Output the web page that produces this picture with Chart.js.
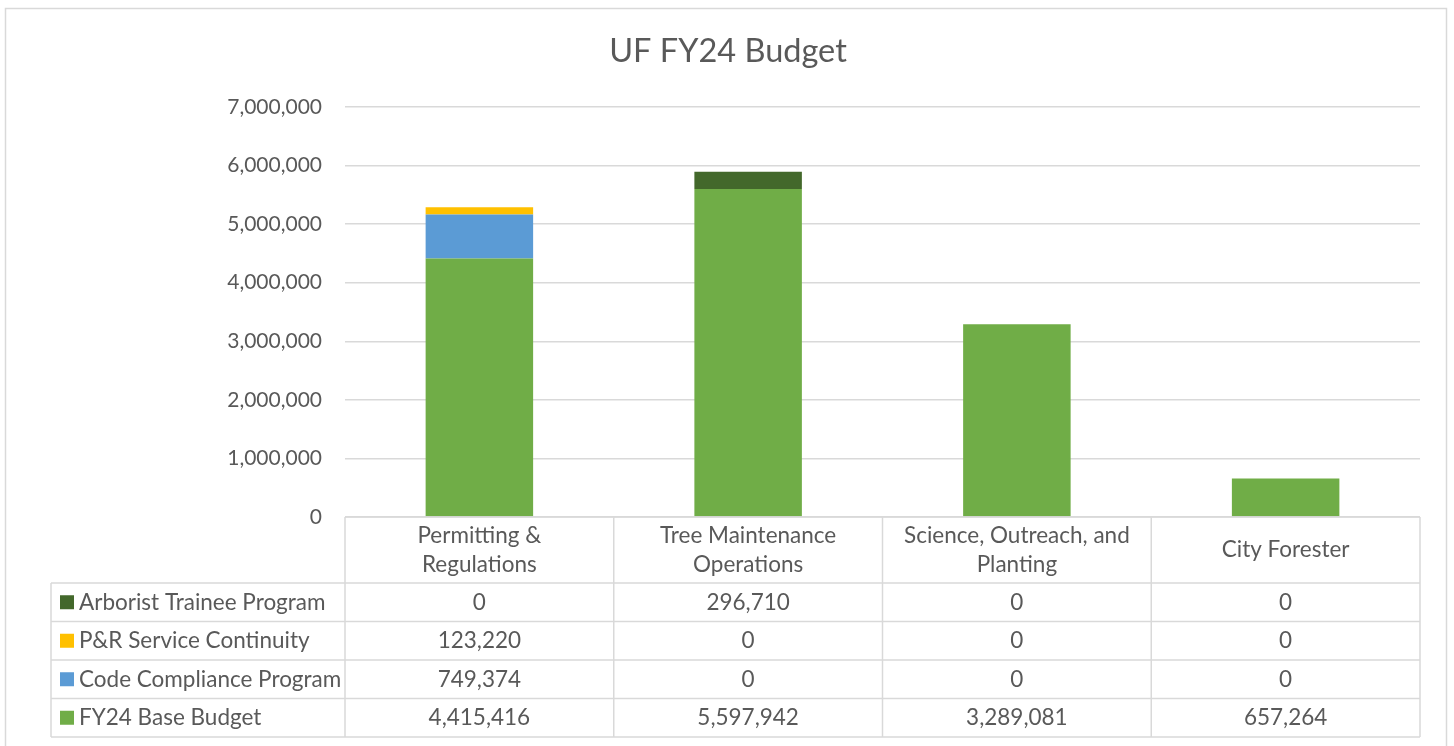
<!DOCTYPE html>
<html>
<head>
<meta charset="utf-8">
<script src="https://cdn.jsdelivr.net/npm/chart.js@4"></script>
<style>
    body { margin: 0; background: #fff; }
    #chart-root { width: 1454px; height: 746px; }
</style>
</head>
<body>
<div id="chart-root"><canvas id="budget-canvas"></canvas></div>
<script>
const categories = [
    ['Permitting &', 'Regulations'],
    ['Tree Maintenance', 'Operations'],
    ['Science, Outreach, and', 'Planting'],
    ['City Forester']
]
const seriesNames = ['FY24 Base Budget', 'Code Compliance Program', 'P&R Service Continuity', 'Arborist Trainee Program']
const baseBudget = [4415416, 5597942, 3289081, 657264]
const codeCompliance = [749374, 0, 0, 0]
const serviceContinuity = [123220, 0, 0, 0]
const arboristTrainee = [0, 296710, 0, 0]
const yTicks = [0, 1000000, 2000000, 3000000, 4000000, 5000000, 6000000, 7000000]

const textColor = '#595959'
const lineColor = '#d9d9d9'
const fontFamily = 'Lato, "Open Sans", sans-serif'
const seriesColors = ['#70AD47', '#5B9BD5', '#FFC000', '#43682B']
const seriesValues = [baseBudget, codeCompliance, serviceContinuity, arboristTrainee]

const fmt = v => v.toLocaleString('en-US')

// title, outer frame and the data table under the plot
const tablePlugin = {
    id: 'dataTable',
    afterDraw(chart) {
        const ctx = chart.ctx
        const area = chart.chartArea
        const xScale = chart.scales.x
        const n = categories.length
        const colW = (area.right - area.left) / n
        const tableLeft = 51
        const headerTop = area.bottom
        const headerBottom = 583
        const rowH = 38.5

        ctx.save()
        ctx.strokeStyle = lineColor
        ctx.lineWidth = 1.5

        // outer frame
        ctx.strokeRect(5.5, 8.5, 1441, 800)

        // title
        ctx.fillStyle = textColor
        ctx.font = `32.5px ${fontFamily}`
        ctx.textAlign = 'center'
        ctx.textBaseline = 'middle'
        ctx.fillText('UF FY24 Budget', 728, 52)

        // table grid
        ctx.beginPath()
        ctx.moveTo(area.left, headerTop)
        ctx.lineTo(area.right, headerTop)
        for (let i = 0; i <= n; i++) {
            const x = area.left + i * colW
            ctx.moveTo(x, headerTop)
            ctx.lineTo(x, headerBottom + rowH * seriesNames.length)
        }
        for (let r = 0; r <= seriesNames.length; r++) {
            const y = headerBottom + r * rowH
            ctx.moveTo(tableLeft, y)
            ctx.lineTo(area.right, y)
        }
        ctx.moveTo(tableLeft, headerBottom)
        ctx.lineTo(tableLeft, headerBottom + rowH * seriesNames.length)
        ctx.stroke()

        ctx.font = `22.5px ${fontFamily}`
        ctx.fillStyle = textColor

        // category headers
        categories.forEach((lines, i) => {
            const cx = xScale.getPixelForValue(i)
            const cy = (headerTop + headerBottom) / 2
            const lh = 29
            lines.forEach((line, j) => {
                ctx.fillText(line, cx, cy + (j - (lines.length - 1) / 2) * lh)
            })
        })

        // rows, top row is the last series
        for (let r = 0; r < seriesNames.length; r++) {
            const s = seriesNames.length - 1 - r
            const cy = headerBottom + r * rowH + rowH / 2
            ctx.fillStyle = seriesColors[s]
            ctx.fillRect(60, cy - 7, 14, 14)
            ctx.fillStyle = textColor
            ctx.textAlign = 'left'
            ctx.fillText(seriesNames[s], 79, cy)
            ctx.textAlign = 'center'
            seriesValues[s].forEach((v, i) => {
                ctx.fillText(fmt(v), xScale.getPixelForValue(i), cy)
            })
        }
        ctx.restore()
    }
}

const chart = new Chart(document.getElementById('budget-canvas').getContext('2d'), {
    type: 'bar',
    data: {
        labels: categories,
        datasets: seriesNames.map((name, i) => ({
            label: name,
            data: seriesValues[i],
            backgroundColor: seriesColors[i],
            borderWidth: 0,
            categoryPercentage: 0.4,
            barPercentage: 1
        }))
    },
    options: {
        responsive: true,
        maintainAspectRatio: false,
        animation: false,
        layout: {
            padding: { left: 0, top: 107, right: 34, bottom: 229 }
        },
        plugins: {
            legend: { display: false },
            title: { display: false },
            tooltip: { enabled: false }
        },
        scales: {
            x: {
                stacked: true,
                display: false
            },
            y: {
                stacked: true,
                min: 0,
                max: 7000000,
                afterBuildTicks: scale => {
                    scale.ticks = yTicks.map(v => ({ value: v }))
                },
                afterFit: scale => {
                    scale.width = 345
                },
                border: { display: false },
                grid: {
                    color: lineColor,
                    lineWidth: 1.5,
                    drawTicks: false
                },
                ticks: {
                    color: textColor,
                    padding: 23,
                    font: { family: fontFamily, size: 21 },
                    callback: v => fmt(v)
                }
            }
        }
    },
    plugins: [tablePlugin]
})
</script>
</body>
</html>
